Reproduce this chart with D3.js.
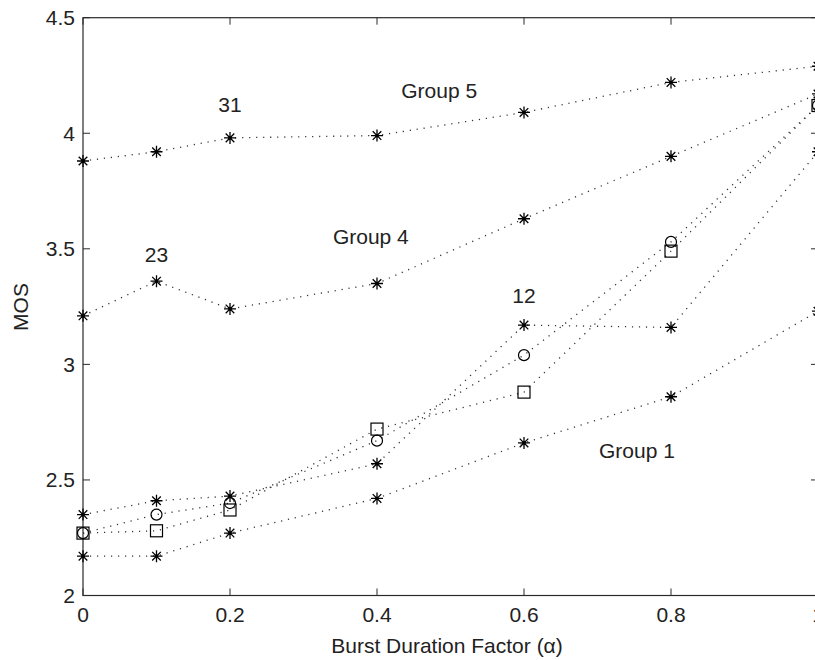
<!DOCTYPE html>
<html>
<head>
<meta charset="utf-8">
<script src="https://cdn.jsdelivr.net/npm/d3@7"></script>
<style>
  body { margin: 0; background: #fff; }
  text { font-family: "Liberation Sans", Arial, sans-serif; fill: #222; }
</style>
</head>
<body>
<div id="chart"></div>
<script>
// data
var alpha = [0, 0.1, 0.2, 0.4, 0.6, 0.8, 1.0];
var group5 = [3.88, 3.92, 3.98, 3.99, 4.09, 4.22, 4.29];
var group4 = [3.21, 3.36, 3.24, 3.35, 3.63, 3.90, 4.17];
var group12 = [2.35, 2.41, 2.43, 2.57, 3.17, 3.16, 3.92];
var circleSeries = [2.27, 2.35, 2.40, 2.67, 3.04, 3.53, 4.12];
var squareSeries = [2.27, 2.28, 2.37, 2.72, 2.88, 3.49, 4.12];
var group1 = [2.17, 2.17, 2.27, 2.42, 2.66, 2.86, 3.23];

var xTicks = [0, 0.2, 0.4, 0.6, 0.8, 1];
var yTicks = [2, 2.5, 3, 3.5, 4, 4.5];

var series = [
    {values: group5, marker: "star"},
    {values: group4, marker: "star"},
    {values: group12, marker: "star"},
    {values: circleSeries, marker: "circle"},
    {values: squareSeries, marker: "square"},
    {values: group1, marker: "star"}
];

// text annotations: [label, x value, y value (baseline)]
var notes = [
    ["Group 5", 0.433, 4.152],
    ["31", 0.2, 4.091],
    ["23", 0.1, 3.445],
    ["Group 4", 0.340, 3.523],
    ["12", 0.6, 3.265],
    ["Group 1", 0.702, 2.596]
];

var W = 815, H = 660;
var x0 = 83, x1 = 818, yTop = 17.7, yBot = 595.5;

var svg = d3.select("#chart").append("svg")
    .attr("width", W)
    .attr("height", H);

var x = d3.scaleLinear().domain([0, 1]).range([x0, x1]);
var y = d3.scaleLinear().domain([2, 4.5]).range([yBot, yTop]);

// axes box
var axisColor = "#2a2a2a";
svg.append("rect")
    .attr("x", x0).attr("y", yTop)
    .attr("width", x1 - x0).attr("height", yBot - yTop)
    .attr("fill", "none")
    .attr("stroke", axisColor)
    .attr("stroke-width", 1.2);

var tickLen = 7;
// bottom & top ticks
svg.selectAll(".xtick-b").data(xTicks).enter().append("line")
    .attr("x1", d => x(d)).attr("x2", d => x(d))
    .attr("y1", yBot).attr("y2", yBot - tickLen)
    .attr("stroke", axisColor);
svg.selectAll(".xtick-t").data(xTicks).enter().append("line")
    .attr("x1", d => x(d)).attr("x2", d => x(d))
    .attr("y1", yTop).attr("y2", yTop + tickLen)
    .attr("stroke", axisColor);
// left & right ticks
svg.selectAll(".ytick-l").data(yTicks).enter().append("line")
    .attr("x1", x0).attr("x2", x0 + tickLen)
    .attr("y1", d => y(d)).attr("y2", d => y(d))
    .attr("stroke", axisColor);
svg.selectAll(".ytick-r").data(yTicks).enter().append("line")
    .attr("x1", x1).attr("x2", x1 - tickLen)
    .attr("y1", d => y(d)).attr("y2", d => y(d))
    .attr("stroke", axisColor);

// tick labels
svg.selectAll(".xlab").data(xTicks).enter().append("text")
    .attr("x", d => x(d))
    .attr("y", 622)
    .attr("text-anchor", "middle")
    .attr("font-size", 21)
    .text(d => d3.format("")(d));
svg.selectAll(".ylab").data(yTicks).enter().append("text")
    .attr("x", 75)
    .attr("y", d => y(d) + 7.5)
    .attr("text-anchor", "end")
    .attr("font-size", 21)
    .text(d => d3.format("")(d));

// axis titles
svg.append("text")
    .attr("x", 447)
    .attr("y", 653)
    .attr("text-anchor", "middle")
    .attr("font-size", 21)
    .text("Burst Duration Factor (\u03b1)");
svg.append("text")
    .attr("transform", "translate(28,307) rotate(-90)")
    .attr("text-anchor", "middle")
    .attr("font-size", 21)
    .text("MOS");

// dotted lines
var line = d3.line()
    .x((d, i) => x(alpha[i]))
    .y(d => y(d));

svg.selectAll(".series").data(series).enter().append("path")
    .attr("class", "series")
    .attr("d", d => line(d.values))
    .attr("fill", "none")
    .attr("stroke", "#333")
    .attr("stroke-width", 1.3)
    .attr("stroke-dasharray", "1.2,5.8");

// markers
var starPath = "M-6,0L6,0M0,-6L0,6M-4.3,-4.3L4.3,4.3M-4.3,4.3L4.3,-4.3";

series.forEach(function(s) {
    var g = svg.append("g");
    var pts = g.selectAll("g").data(s.values).enter().append("g")
        .attr("transform", (d, i) => "translate(" + x(alpha[i]) + "," + y(d) + ")");
    if (s.marker == "star") {
        pts.append("path")
            .attr("d", starPath)
            .attr("stroke", "#000")
            .attr("stroke-width", 1.3)
            .attr("fill", "none");
        pts.append("circle").attr("r", 1.6).attr("fill", "#000");
    } else if (s.marker == "circle") {
        pts.append("circle")
            .attr("r", 5.5)
            .attr("fill", "none")
            .attr("stroke", "#000")
            .attr("stroke-width", 1.2);
    } else {
        pts.append("rect")
            .attr("x", -6).attr("y", -6)
            .attr("width", 12).attr("height", 12)
            .attr("fill", "none")
            .attr("stroke", "#000")
            .attr("stroke-width", 1.2);
    }
});

// annotations
svg.selectAll(".note").data(notes).enter().append("text")
    .attr("x", d => x(d[1]))
    .attr("y", d => y(d[2]))
    .attr("text-anchor", d => d[0].length <= 2 ? "middle" : "start")
    .attr("font-size", 21)
    .text(d => d[0]);
</script>
</body>
</html>
